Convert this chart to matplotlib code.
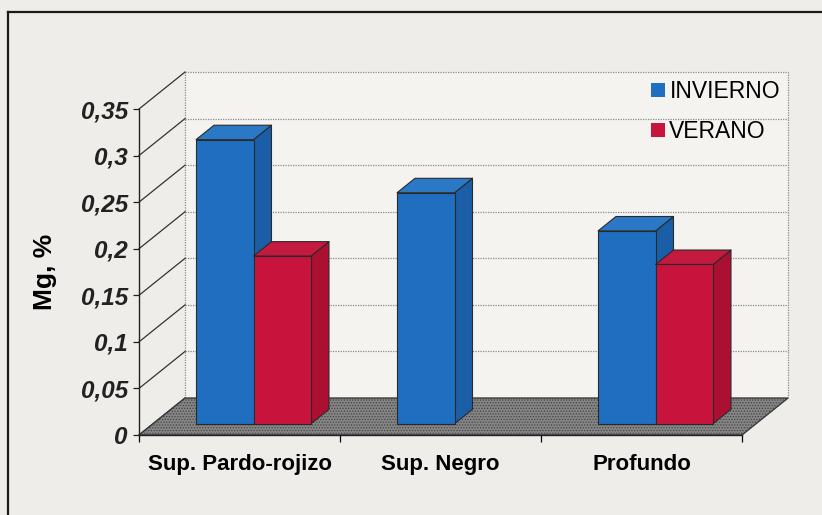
import matplotlib
matplotlib.use("Agg")
import matplotlib.pyplot as plt
from matplotlib.patches import Polygon, Patch
from matplotlib.lines import Line2D
import numpy as np

plt.rcParams.update({
    "font.family": ["Liberation Sans", "DejaVu Sans"],
    "hatch.linewidth": 0.6,
})

categories = ["Sup. Pardo-rojizo", "Sup. Negro", "Profundo"]
invierno = [0.305, 0.248, 0.207]
verano = [0.180, np.nan, 0.171]      # sin dato de verano en Sup. Negro
series = [("INVIERNO", invierno), ("VERANO", verano)]
yticks = [0, 0.05, 0.10, 0.15, 0.20, 0.25, 0.30, 0.35]
ytick_labels = ["0", "0,05", "0,1", "0,15", "0,2", "0,25", "0,3", "0,35"]

# colours per series: front, side, top
COLORS = {
    "INVIERNO": ("#1f6ec0", "#1a5ea8", "#2a78c6"),
    "VERANO": ("#c8143c", "#ab0f31", "#c41a40"),
}
EDGE = "#2a2a2a"

# oblique depth vector (category units, value units)
DX, DY = 0.229, 0.0397
D0, D1 = 0.305, 0.695        # bar depth span
BAR_W = 0.286
YMAX = yticks[-1]

W, H = 822, 515
fig = plt.figure(figsize=(W / 100, H / 100), dpi=100)
fig.patch.set_facecolor("#eeedea")
ax = fig.add_axes([139 / W, (H - 435) / H, 603 / W, 326 / H])
ax.set_xlim(0, len(categories))
ax.set_ylim(0, YMAX)
ax.patch.set_alpha(0)

ncat = len(categories)

# back wall
wall = Polygon([(DX, DY), (ncat + DX, DY), (ncat + DX, YMAX + DY), (DX, YMAX + DY)],
               closed=True, facecolor="#f4f3f0", edgecolor="none", zorder=0,
               clip_on=False)
ax.add_patch(wall)
for t in yticks[1:]:
    ax.plot([DX, ncat + DX], [t + DY, t + DY], color="#8a8a8a", lw=0.9,
            ls=(0, (1, 1)), zorder=1, clip_on=False)
for xe in (DX, ncat + DX):
    ax.plot([xe, xe], [DY, YMAX + DY], color="#8a8a8a", lw=0.9,
            ls=(0, (1, 1)), zorder=1, clip_on=False)

# left wall grid lines
for t in yticks:
    ax.plot([0, DX], [t, t + DY], color="#333333", lw=0.9, zorder=2,
            clip_on=False)

# floor
floor_pts = [(0, 0), (ncat, 0), (ncat + DX, DY), (DX, DY)]
ax.add_patch(Polygon(floor_pts, closed=True, facecolor="#858585",
                     edgecolor="#454545", hatch="......", lw=0,
                     zorder=2, clip_on=False))
ax.add_patch(Polygon(floor_pts, closed=True, facecolor="none",
                     edgecolor="#3a3a3a", lw=1.0, zorder=2.1, clip_on=False))


def draw_bar(x0, v, colors, z):
    x1 = x0 + BAR_W
    ax0, ay0 = D0 * DX, D0 * DY
    ax1, ay1 = D1 * DX, D1 * DY
    front = [(x0 + ax0, ay0), (x1 + ax0, ay0), (x1 + ax0, v + ay0), (x0 + ax0, v + ay0)]
    side = [(x1 + ax0, ay0), (x1 + ax1, ay1), (x1 + ax1, v + ay1), (x1 + ax0, v + ay0)]
    top = [(x0 + ax0, v + ay0), (x1 + ax0, v + ay0), (x1 + ax1, v + ay1), (x0 + ax1, v + ay1)]
    for pts, c in ((side, colors[1]), (top, colors[2]), (front, colors[0])):
        ax.add_patch(Polygon(pts, closed=True, facecolor=c, edgecolor=EDGE,
                             lw=0.8, joinstyle="round", zorder=z, clip_on=False))


z = 3
for i in range(ncat):
    for j, (name, vals) in enumerate(series):
        v = vals[i]
        if np.isnan(v):
            continue
        draw_bar(i + 0.5 - BAR_W + j * BAR_W, v, COLORS[name], z)
        z += 1

# axes
for s in ("top", "right"):
    ax.spines[s].set_visible(False)
for s in ("left", "bottom"):
    ax.spines[s].set_color("#222222")
    ax.spines[s].set_linewidth(1.0)
    ax.spines[s].set_zorder(20)

ax.set_yticks(yticks)
ax.set_yticklabels(ytick_labels, fontsize=17.5, fontweight="bold",
                   fontstyle="italic")
ax.tick_params(axis="y", direction="out", length=4, width=0.9, pad=4,
               colors="#222222")

ax.set_xticks(np.arange(ncat + 1))
ax.set_xticklabels([])
ax.set_xticks(np.arange(ncat) + 0.5, minor=True)
ax.set_xticklabels(categories, minor=True, fontsize=16, fontweight="bold")
ax.tick_params(axis="x", which="major", direction="out", length=5, width=0.9)
ax.tick_params(axis="x", which="minor", length=0, pad=14)

ax.set_ylabel("Mg, %", fontsize=19, fontweight="bold")
ax.yaxis.set_label_coords(-0.136, 0.5)

handles = [Patch(facecolor=COLORS[n][0], edgecolor="none") for n, _ in series]
fig.legend(handles, [n for n, _ in series], loc="upper right",
           bbox_to_anchor=(780 / W, 1 - 80 / H), frameon=False, fontsize=16.5,
           handlelength=0.6, handleheight=0.6, handletextpad=0.2,
           labelspacing=0.75, borderpad=0, borderaxespad=0)

# outer frame (top and left)
fig.add_artist(Line2D([8 / W, 8 / W], [0, 1 - 12 / H], transform=fig.transFigure,
                      color="#1a1a1a", lw=1.6))
fig.add_artist(Line2D([8 / W, 1], [1 - 12 / H, 1 - 12 / H], transform=fig.transFigure,
                      color="#1a1a1a", lw=1.6))

fig.savefig("out.png", dpi=100, facecolor=fig.get_facecolor())
